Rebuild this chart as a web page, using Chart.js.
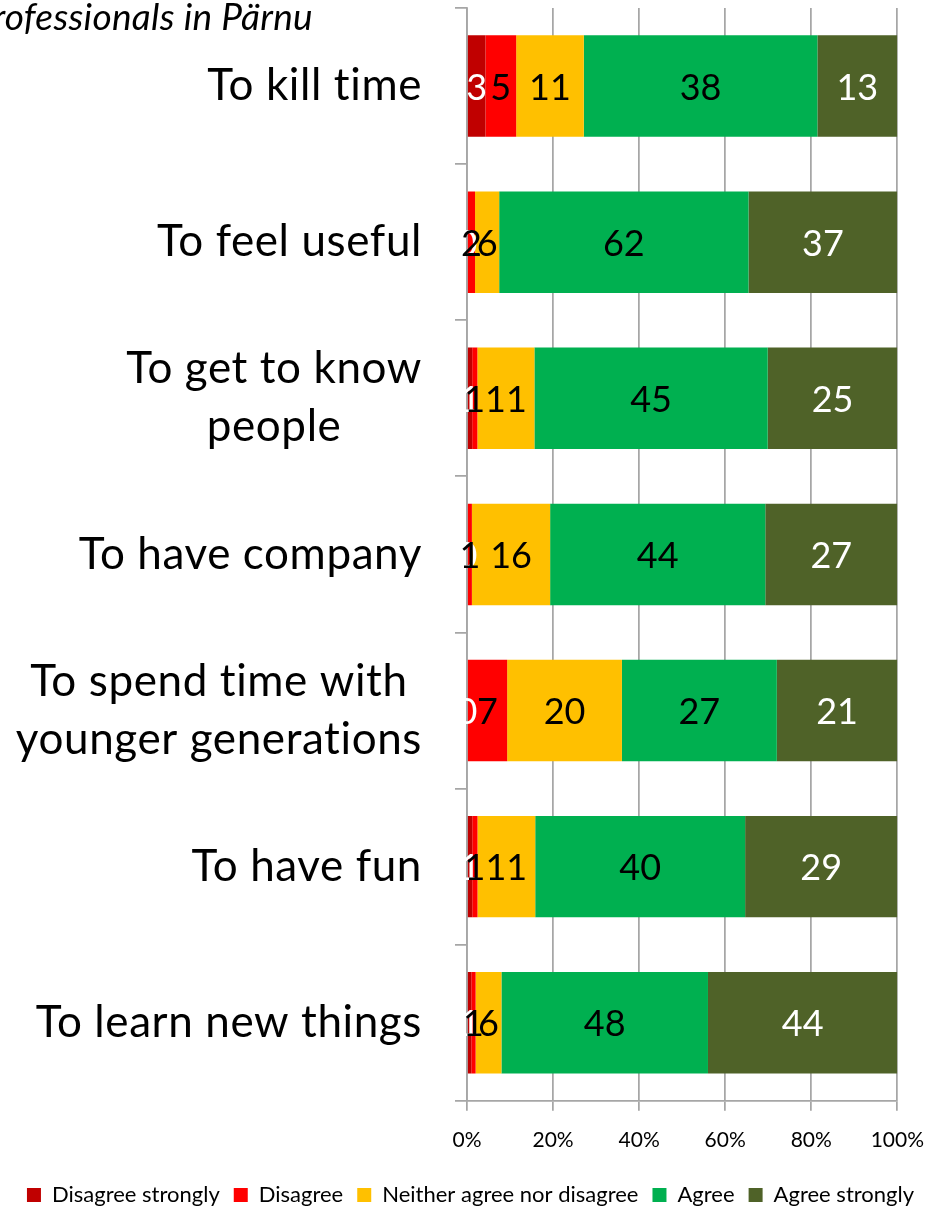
<!DOCTYPE html>
<html>
<head>
<meta charset="utf-8">
<script src="https://cdn.jsdelivr.net/npm/chart.js@4/dist/chart.umd.min.js"></script>
<style>
  html, body { margin: 0; padding: 0; background: #fff; }
  #wrap { width: 941px; height: 1208px; position: relative; }
</style>
</head>
<body>
<div id="wrap"><canvas id="c" width="941" height="1208"></canvas></div>
<script>
const titleText = "professionals in Pärnu";
const categories = [
  ["To kill time"],
  ["To feel useful"],
  ["To get to know", "people"],
  ["To have company"],
  ["To spend time with", "younger generations"],
  ["To have fun"],
  ["To learn new things"]
];
const seriesNames = ["Disagree strongly", "Disagree", "Neither agree nor disagree", "Agree", "Agree strongly"];
const disagreeStrongly = [3, 0, 1, 0, 0, 1, 1];
const disagree = [5, 2, 1, 1, 7, 1, 1];
const neither = [11, 6, 11, 16, 20, 11, 6];
const agree = [38, 62, 45, 44, 27, 40, 48];
const agreeStrongly = [13, 37, 25, 27, 21, 29, 44];
const xTickLabels = ["0%", "20%", "40%", "60%", "80%", "100%"];

const seriesColors = ["#C00000", "#FF0000", "#FFC000", "#00B050", "#4F6228"];
const labelColors = ["#ffffff", "#000000", "#000000", "#000000", "#ffffff"];
const FONT = "Lato";

const allSeries = [disagreeStrongly, disagree, neither, agree, agreeStrongly];
const totals = categories.map((_, i) => allSeries.reduce((s, arr) => s + arr[i], 0));

const datasets = allSeries.map((arr, k) => ({
  label: seriesNames[k],
  data: arr.map((v, i) => v / totals[i] * 100),
  raw: arr,
  backgroundColor: seriesColors[k],
  borderWidth: 0,
  barPercentage: 0.65,
  categoryPercentage: 1.0
}));

const valueLabels = {
  id: 'valueLabels',
  afterDatasetsDraw(chart) {
    const ctx = chart.ctx;
    ctx.save();
    ctx.font = `36px ${FONT}`;
    ctx.textAlign = 'center';
    ctx.textBaseline = 'middle';
    chart.data.datasets.forEach((ds, k) => {
      const meta = chart.getDatasetMeta(k);
      meta.data.forEach((el, i) => {
        ctx.fillStyle = labelColors[k];
        ctx.fillText(String(ds.raw[i]), (el.x + el.base) / 2, el.y + 2);
      });
    });
    ctx.restore();
  }
};

const catLabels = {
  id: 'catLabels',
  afterDraw(chart) {
    const ctx = chart.ctx;
    const y = chart.scales.y;
    ctx.save();
    ctx.font = `44px ${FONT}`;
    ctx.letterSpacing = '0.6px';
    ctx.fillStyle = '#000';
    ctx.textAlign = 'center';
    ctx.textBaseline = 'middle';
    const lh = 58;
    const right = 422;
    categories.forEach((lines, i) => {
      const cy = y.getPixelForValue(i);
      const w = Math.max(...lines.map(l => ctx.measureText(l).width));
      const cx = right - w / 2;
      lines.forEach((l, j) => {
        const ly = cy + (j - (lines.length - 1) / 2) * lh;
        ctx.fillText(l, cx, ly);
      });
    });
    // title fragment (clipped at the left edge, as in the original)
    ctx.font = `italic 37px ${FONT}`;
    ctx.letterSpacing = '0.3px';
    ctx.textAlign = 'right';
    ctx.textBaseline = 'alphabetic';
    ctx.fillText(titleText, 313, 30);
    ctx.restore();
  }
};

new Chart(document.getElementById('c'), {
  type: 'bar',
  data: { labels: categories.map(l => l.join(' ')), datasets },
  options: {
    indexAxis: 'y',
    responsive: false,
    devicePixelRatio: 1,
    animation: false,
    layout: { padding: { top: 8, right: 0, left: 0, bottom: -8 } },
    scales: {
      x: {
        stacked: true,
        min: 0, max: 100,
        ticks: {
          stepSize: 20,
          color: '#000',
          font: { family: FONT, size: 21 },
          padding: 17,
          callback: (v, i) => xTickLabels[i]
        },
        grid: { color: '#a6a6a6', lineWidth: 1.75, tickLength: 10, drawTicks: true },
        border: { color: '#a6a6a6', width: 1.75 }
      },
      y: {
        stacked: true,
        ticks: { display: false },
        grid: { offset: true, drawOnChartArea: false, drawTicks: true, tickLength: 12, color: '#a6a6a6', lineWidth: 1.75 },
        border: { color: '#a6a6a6', width: 1.75 },
        afterFit(scale) { scale.width = 467; }
      },
      yRightGap: {
        type: 'category',
        position: 'right',
        display: true,
        ticks: { display: false },
        grid: { display: false, drawTicks: false },
        border: { display: false },
        afterFit(scale) { scale.width = 40; }
      }
    },
    plugins: {
      legend: {
        position: 'bottom',
        labels: {
          color: '#000',
          font: { family: FONT, size: 22 },
          boxWidth: 14, boxHeight: 14,
          padding: 14,
          generateLabels(chart) {
            return chart.data.datasets.map((ds, k) => ({
              text: ds.label, fillStyle: seriesColors[k], strokeStyle: seriesColors[k],
              lineWidth: 0, datasetIndex: k, hidden: false, fontColor: '#000'
            }));
          }
        }
      },
      tooltip: { enabled: false },
      title: { display: false }
    }
  },
  plugins: [valueLabels, catLabels]
});
</script>
</body>
</html>
